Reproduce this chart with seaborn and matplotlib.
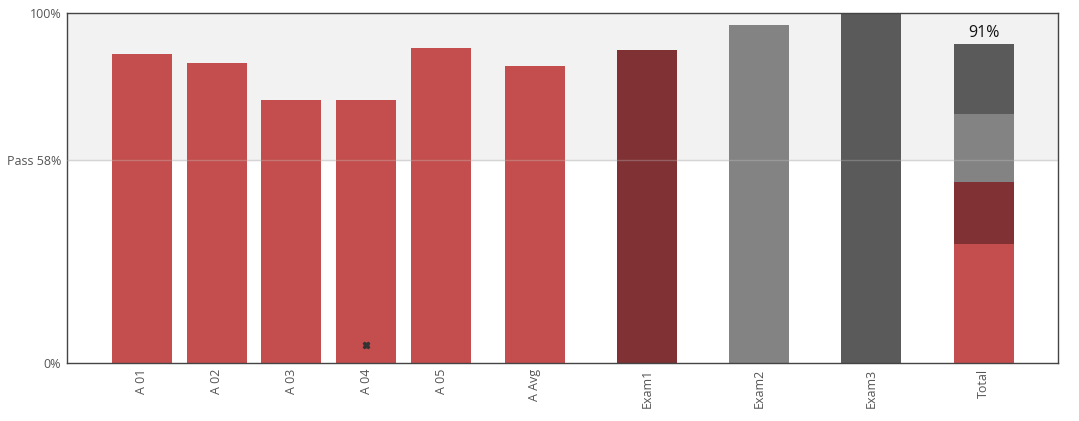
import pandas as pd
import seaborn as sns
import matplotlib.pyplot as plt

# Scores per item (percent)
labels = ['A 01', 'A 02', 'A 03', 'A 04', 'A 05', 'A Avg', 'Exam1', 'Exam2', 'Exam3']
scores = [88.3, 85.7, 75.1, 75.1, 90.0, 84.9, 89.4, 96.6, 100.0]
groups = ['assign', 'assign', 'assign', 'assign', 'assign', 'assign', 'exam1', 'exam2', 'exam3']

# Contributions to the total (bottom to top)
total_parts = [34.0, 17.7, 19.4, 20.0]
total_label = 'Total'
total_value = 91

pass_mark = 58
flagged = 'A 04'   # item with an x marker
flag_value = 5

# Colours
colors = {'assign': '#c44e4e', 'exam1': '#7f3133', 'exam2': '#838383', 'exam3': '#5a5a5a'}
part_colors = [colors['assign'], colors['exam1'], colors['exam2'], colors['exam3']]

# Layout: x positions (slot units)
x_pos = [1, 2, 3, 4, 5, 6.25, 7.75, 9.25, 10.75]
total_pos = 12.25

df = pd.DataFrame({'label': labels, 'score': scores, 'group': groups, 'x': x_pos})

plt.rcParams['font.family'] = ['Open Sans', 'DejaVu Sans']
fig, ax = plt.subplots(figsize=(10.79, 4.21), dpi=100)
fig.subplots_adjust(left=0.062, right=0.981, top=0.969, bottom=0.138)

# Pass band
ax.axhspan(pass_mark, 100, color='#f2f2f2', zorder=0, lw=0)

sns.barplot(data=df, x='x', y='score', hue='group', palette=colors,
            native_scale=True, width=0.8, dodge=False, legend=False,
            saturation=1, linewidth=0, zorder=2, ax=ax)

# Stacked total bar (cumulative overplot)
cum = pd.Series(total_parts).cumsum().tolist()
for val, col in reversed(list(zip(cum, part_colors))):
    ax.bar(total_pos, val, width=0.8, color=col, linewidth=0, zorder=2)
ax.text(total_pos, cum[-1] + 1.0, f'{total_value}%', ha='center', va='bottom',
        fontsize=11.5, color='#111111')

ax.axhline(pass_mark, color='#cccccc', lw=1, alpha=0.3, zorder=3)
ax.axhline(pass_mark, color='#d9d9d9', lw=1, zorder=1)

# Flag marker
ax.plot(x_pos[labels.index(flagged)], flag_value, marker='X', color='#333333',
        markersize=5, zorder=4)

ax.set_xlim(0, 13.25)
ax.set_ylim(0, 100)
ax.set_xticks(x_pos + [total_pos])
ax.set_xticklabels(labels + [total_label], rotation=90, fontsize=9, color='#555555')
ax.set_yticks([0, pass_mark, 100])
ax.set_yticklabels(['0%', f'Pass {pass_mark}%', '100%'], fontsize=9, color='#555555')
ax.tick_params(length=0, pad=4)
ax.set_xlabel('')
ax.set_ylabel('')
for s in ax.spines.values():
    s.set_color('#444444')
    s.set_linewidth(1)

plt.savefig('out.png', dpi=100)
